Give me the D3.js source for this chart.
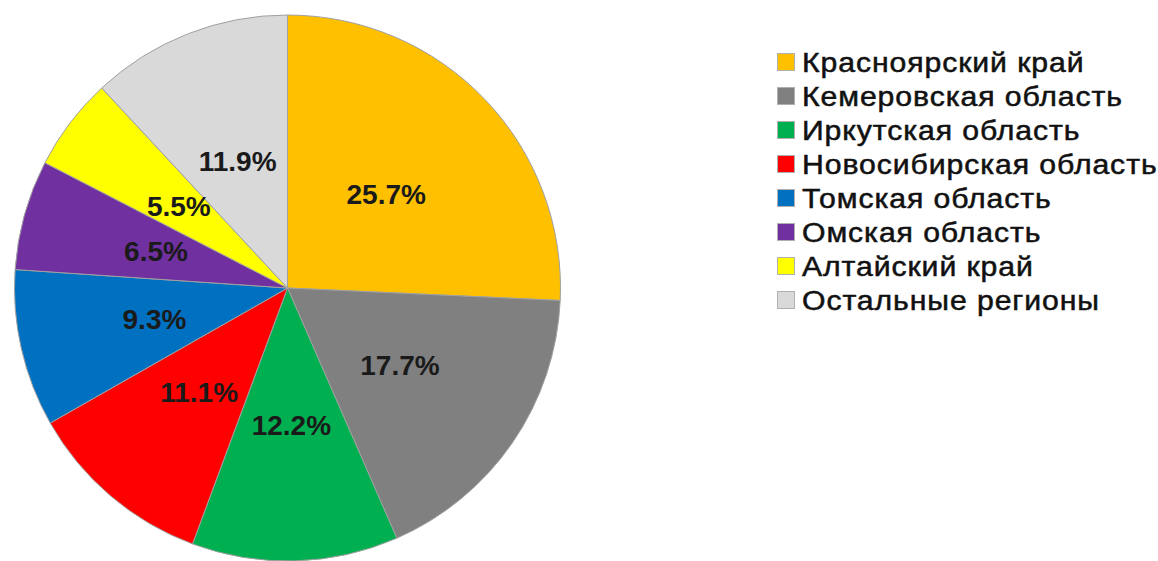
<!DOCTYPE html>
<html><head><meta charset="utf-8">
<script src="https://cdn.jsdelivr.net/npm/d3@7"></script>
<style>html,body{margin:0;padding:0;background:#fff;}svg{display:block;}</style>
</head><body>
<svg id="c" width="1158" height="561"></svg>
<script>
const categories = ["Красноярский край","Кемеровская область","Иркутская область","Новосибирская область","Томская область","Омская область","Алтайский край","Остальные регионы"];
const values = [25.7, 17.7, 12.2, 11.1, 9.3, 6.5, 5.5, 11.9];
const labels = ["25.7%","17.7%","12.2%","11.1%","9.3%","6.5%","5.5%","11.9%"];
const colors = ["#FFC000","#808080","#00B050","#FF0000","#0070C0","#7030A0","#FFFF00","#D9D9D9"];

const svg = d3.select("#c");
const cx = 287.5, cy = 288, r = 273;
const pie = d3.pie().sort(null).value(d => d)(values);
const arc = d3.arc().innerRadius(0).outerRadius(r);
const labelArc = d3.arc().innerRadius(r*0.5).outerRadius(r*0.5);
const g = svg.append("g").attr("transform", `translate(${cx},${cy})`);
g.selectAll("path").data(pie).enter().append("path")
  .attr("d", arc).attr("fill", (d,i) => colors[i])
  .attr("stroke", "#a0a0a0").attr("stroke-width", 1);
g.selectAll("text").data(pie).enter().append("text")
  .attr("transform", d => `translate(${labelArc.centroid(d)})`)
  .attr("text-anchor", "middle").attr("dy", "0.36em")
  .attr("font-family", "Liberation Sans, Arial, sans-serif")
  .attr("font-weight", "bold").attr("font-size", 28)
  .attr("fill", "#1a1a1a")
  .text((d,i) => labels[i]);

const y = d3.scalePoint().domain(categories).range([62, 300]);
const lg = svg.append("g");
const items = lg.selectAll("g").data(categories).enter().append("g")
  .attr("transform", d => `translate(777,${y(d)})`);
items.append("rect").attr("x", 0.5).attr("y", -8.5).attr("width", 17).attr("height", 17)
  .attr("fill", (d,i) => colors[i]).attr("stroke", "#b0b0b0").attr("stroke-width", 1);
items.append("text").attr("transform", "translate(25,0) scale(1.12,1)").attr("dy", "0.36em")
  .attr("font-family", "Liberation Sans, Arial, sans-serif")
  .attr("font-size", 27).attr("fill", "#111")
  .attr("stroke", "#111").attr("stroke-width", 0.5)
  .attr("letter-spacing", 0.8)
  .text(d => d);
</script>
</body></html>
